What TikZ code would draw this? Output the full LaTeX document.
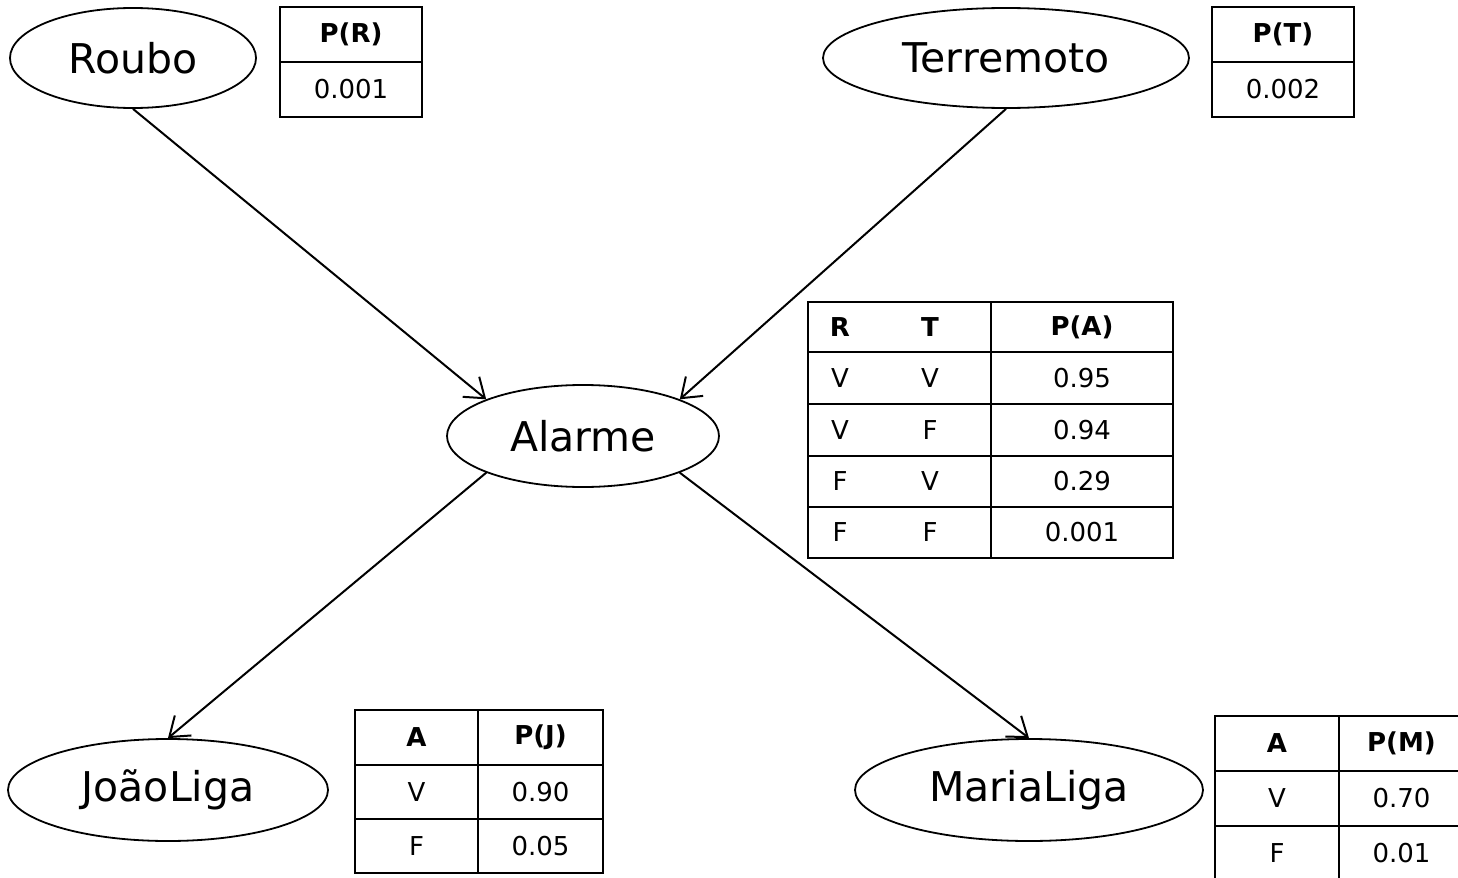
\documentclass[tikz,border=0pt]{standalone}
\usepackage{fontspec}
\setmainfont{DejaVu Sans}
\usetikzlibrary{shapes.geometric,arrows.meta}
\begin{document}
\begin{tikzpicture}[x=0.5pt,y=-0.5pt,
  var/.style={ellipse,draw,line width=0.9pt,inner sep=0pt,font=\fontsize{20.5pt}{24pt}\selectfont},
  cell/.style={inner sep=0pt,font=\fontsize{13pt}{15pt}\selectfont},
  hcell/.style={inner sep=0pt,font=\fontsize{13pt}{15pt}\selectfont\bfseries},
  grid/.style={line width=1.1pt},
  edge/.style={line width=1pt,-{Straight Barb[length=9pt,width=13pt]}}]
\useasboundingbox (0,0) rectangle (1458,878);
\clip (0,0) rectangle (1458,878);

% variables
\node[var,minimum width=123pt,minimum height=50pt] (roubo) at (133,58) {Roubo};
\node[var,minimum width=183pt,minimum height=50pt] (terremoto) at (1006,58) {Terremoto};
\node[var,minimum width=136pt,minimum height=51pt] (alarme) at (583,436) {Alarme};
\node[var,minimum width=160pt,minimum height=51pt] (joao) at (168,790) {JoãoLiga};
\node[var,minimum width=174pt,minimum height=51pt] (maria) at (1029,790) {MariaLiga};

% edges
\draw[edge] (roubo.south) -- (alarme.north west);
\draw[edge] (terremoto.south) -- (alarme.north east);
\draw[edge] (alarme.south west) -- (joao.north);
\draw[edge] (alarme.south east) -- (maria.north);

% P(R)
\draw[grid] (280,7) rectangle (422,117);
\draw[grid] (280,62) -- (422,62);
\node[hcell] (prh) at (351,34.5) {P(R)};
\node[cell] (prv) at (351,89.5) {0.001};

% P(T)
\draw[grid] (1212,7) rectangle (1354,117);
\draw[grid] (1212,62) -- (1354,62);
\node[hcell] (pth) at (1283,34.5) {P(T)};
\node[cell] (ptv) at (1283,89.5) {0.002};

% P(A)
\draw[grid] (808,302) rectangle (1173,558);
\foreach \yy in {352,404,456,507} \draw[grid] (808,\yy) -- (1173,\yy);
\draw[grid] (991,302) -- (991,558);
\node[hcell] (par) at (840,327) {R};
\node[hcell] (pat) at (930,327) {T};
\node[hcell] (pah) at (1082,327) {P(A)};
\node[cell] (pa1r) at (840,378) {V};
\node[cell] (pa1t) at (930,378) {V};
\node[cell] (pa1) at (1082,378) {0.95};
\node[cell] (pa2r) at (840,430) {V};
\node[cell] (pa2t) at (930,430) {F};
\node[cell] (pa2) at (1082,430) {0.94};
\node[cell] (pa3r) at (840,481.5) {F};
\node[cell] (pa3t) at (930,481.5) {V};
\node[cell] (pa3) at (1082,481.5) {0.29};
\node[cell] (pa4r) at (840,532.5) {F};
\node[cell] (pa4t) at (930,532.5) {F};
\node[cell] (pa4) at (1082,532.5) {0.001};

% P(J)
\draw[grid] (355,710) rectangle (603,873);
\draw[grid] (355,765) -- (603,765);
\draw[grid] (355,819) -- (603,819);
\draw[grid] (478,710) -- (478,873);
\node[hcell] (pja) at (416.5,737.5) {A};
\node[hcell] (pjh) at (540.5,737.5) {P(J)};
\node[cell] (pj1a) at (416.5,792) {V};
\node[cell] (pj1) at (540.5,792) {0.90};
\node[cell] (pj2a) at (416.5,846) {F};
\node[cell] (pj2) at (540.5,846) {0.05};

% P(M)
\draw[grid] (1215,716) rectangle (1464,881);
\draw[grid] (1215,771) -- (1464,771);
\draw[grid] (1215,826) -- (1464,826);
\draw[grid] (1339,716) -- (1339,881);
\node[hcell] (pma) at (1277,743.5) {A};
\node[hcell] (pmh) at (1401.5,743.5) {P(M)};
\node[cell] (pm1a) at (1277,798.5) {V};
\node[cell] (pm1) at (1401.5,798.5) {0.70};
\node[cell] (pm2a) at (1277,853.5) {F};
\node[cell] (pm2) at (1401.5,853.5) {0.01};
\end{tikzpicture}
\end{document}
